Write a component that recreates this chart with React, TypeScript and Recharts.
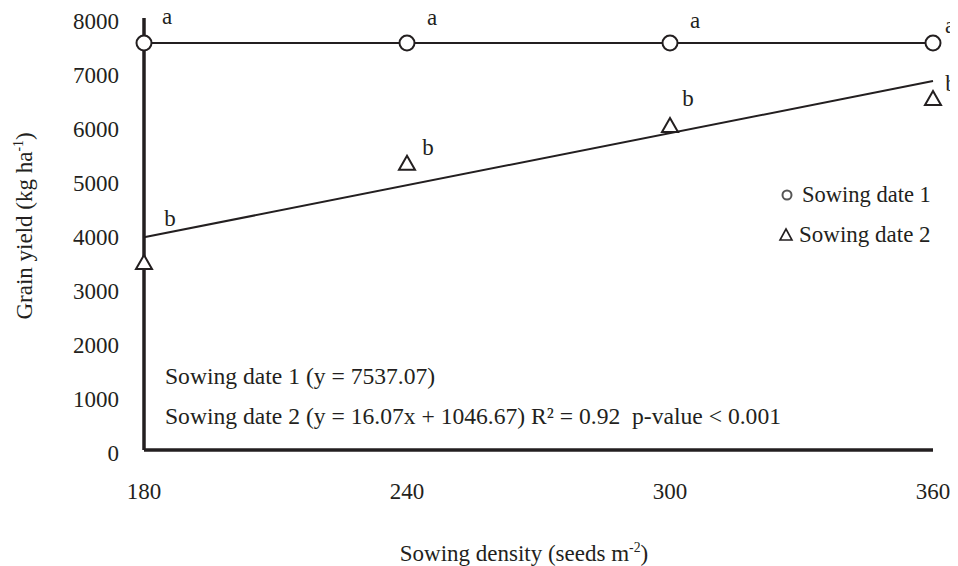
import { ComposedChart, Line, Scatter, XAxis, YAxis } from "recharts";

const densities = [180, 240, 300, 360];
const date1Yield = [7537, 7537, 7537, 7537];
const date2Yield = [3480, 5320, 6020, 6520];
const date1Letters = ["a", "a", "a", "a"];
const date2Letters = ["b", "b", "b", "b"];
// fitted line for sowing date 2, read at the ends of the axis
const trendDensity = [180, 360];
const trendYield = [3939, 6832];
const yTicks = [0, 1000, 2000, 3000, 4000, 5000, 6000, 7000, 8000];
const seriesNames = ["Sowing date 1", "Sowing date 2"];

const INK = "#231f20";
const FONT = '"Liberation Serif", "Times New Roman", serif';
const FS = 23;

// letter placement next to each marker (dx, baseline dy)
const aOffsets = [
  [23, -19],
  [25, -18],
  [25, -15],
  [17, -10],
];
const bOffsets = [
  [26, -36],
  [21, -8],
  [18, -19],
  [18, -7],
];

const date1Points = densities.map((x, i) => ({ x, y: date1Yield[i] }));
const date2Points = densities.map((x, i) => ({ x, y: date2Yield[i] }));
const trendPoints = trendDensity.map((x, i) => ({ x, y: trendYield[i] }));

const textStyle = { fontFamily: FONT, fontSize: FS, fill: INK };

function CircleDot(props: any) {
  const { cx, cy, index } = props;
  const [dx, dy] = aOffsets[index] ?? [20, -20];
  return (
    <g>
      <circle cx={cx} cy={cy} r={7.5} fill="#fff" stroke={INK} strokeWidth={2} />
      <text x={cx + dx} y={cy + dy} textAnchor="middle" style={textStyle}>
        {date1Letters[index]}
      </text>
    </g>
  );
}

function TriangleShape(props: any) {
  const { cx, cy, payload } = props;
  const i = densities.indexOf(payload?.x);
  const [dx, dy] = bOffsets[i] ?? [20, -20];
  const w = 8;
  const h = 7;
  return (
    <g>
      <path
        d={`M${cx},${cy - h} L${cx + w},${cy + h} L${cx - w},${cy + h} Z`}
        fill="#fff"
        stroke={INK}
        strokeWidth={2}
      />
      <text x={cx + dx} y={cy + dy} textAnchor="middle" style={textStyle}>
        {date2Letters[i]}
      </text>
    </g>
  );
}

function YTick(props: any) {
  const { x, y, payload } = props;
  return (
    <text x={x - 25} y={y + 10.5} textAnchor="end" style={textStyle}>
      {payload.value}
    </text>
  );
}

function XTick(props: any) {
  const { x, y, payload } = props;
  return (
    <text x={x} y={y + 49} textAnchor="middle" style={textStyle}>
      {payload.value}
    </text>
  );
}

function LegendBox() {
  return (
    <svg width={180} height={80} style={{ position: "absolute", left: 770, top: 175 }}>
      <circle cx={9} cy={20} r={4.5} fill="none" stroke="#555" strokeWidth={2} />
      <text x={24} y={27} style={{ ...textStyle, fontSize: 22.5 }}>
        {seriesNames[0]}
      </text>
      <path d="M8,54 L14,65 L2,65 Z" fill="none" stroke={INK} strokeWidth={1.6} />
      <text x={21} y={67} style={textStyle}>
        {seriesNames[1]}
      </text>
    </svg>
  );
}

const noteStyle = {
  position: "absolute" as const,
  left: 157,
  whiteSpace: "nowrap" as const,
  fontSize: 23.6,
  lineHeight: 1,
};

export default function App() {
  return (
    <div
      style={{
        position: "relative",
        width: 950,
        height: 566,
        marginTop: -8,
        fontFamily: FONT,
        color: INK,
      }}
    >
      <ComposedChart
        width={950}
        height={566}
        margin={{ top: 18, right: 25, bottom: 0, left: 0 }}
        style={{ overflow: "visible" }}
      >
        <XAxis
          type="number"
          dataKey="x"
          domain={[180, 360]}
          ticks={densities}
          height={116}
          tickSize={0}
          tickMargin={0}
          tickLine={false}
          axisLine={{ stroke: INK, strokeWidth: 3.5 }}
          tick={<XTick />}
        />
        <YAxis
          type="number"
          dataKey="y"
          domain={[0, 8000]}
          ticks={yTicks}
          width={136}
          tickSize={0}
          tickMargin={0}
          tickLine={false}
          axisLine={{ stroke: INK, strokeWidth: 3.5 }}
          tick={<YTick />}
        />
        <Line
          data={trendPoints}
          dataKey="y"
          stroke={INK}
          strokeWidth={2}
          dot={false}
          activeDot={false}
          isAnimationActive={false}
          legendType="none"
        />
        <Line
          data={date1Points}
          dataKey="y"
          name={seriesNames[0]}
          stroke={INK}
          strokeWidth={2}
          dot={(p: any) => <CircleDot key={`d1-${p.index}`} {...p} />}
          activeDot={false}
          isAnimationActive={false}
        />
        <Scatter
          data={date2Points}
          dataKey="y"
          name={seriesNames[1]}
          shape={(p: any) => <TriangleShape {...p} />}
          isAnimationActive={false}
        />
      </ComposedChart>

      <LegendBox />

      {/* axis titles */}
      <div
        style={{
          position: "absolute",
          left: 16,
          top: 226,
          transform: "translate(-50%, -50%) rotate(-90deg)",
          whiteSpace: "nowrap",
          fontSize: FS,
          lineHeight: 1,
        }}
      >
        Grain yield (kg ha<sup style={{ fontSize: "0.6em", lineHeight: 0 }}>-1</sup>)
      </div>
      <div
        style={{
          position: "absolute",
          left: 516,
          top: 542,
          transform: "translateX(-50%)",
          whiteSpace: "nowrap",
          fontSize: FS,
          lineHeight: 1,
        }}
      >
        Sowing density (seeds m<sup style={{ fontSize: "0.6em", lineHeight: 0 }}>-2</sup>)
      </div>

      {/* regression notes */}
      <div style={{ ...noteStyle, top: 365 }}>Sowing date 1 (y = 7537.07)</div>
      <div style={{ ...noteStyle, top: 405 }}>
        Sowing date 2 (y = 16.07x + 1046.67) R² = 0.92&nbsp; p-value &lt; 0.001
      </div>
    </div>
  );
}
